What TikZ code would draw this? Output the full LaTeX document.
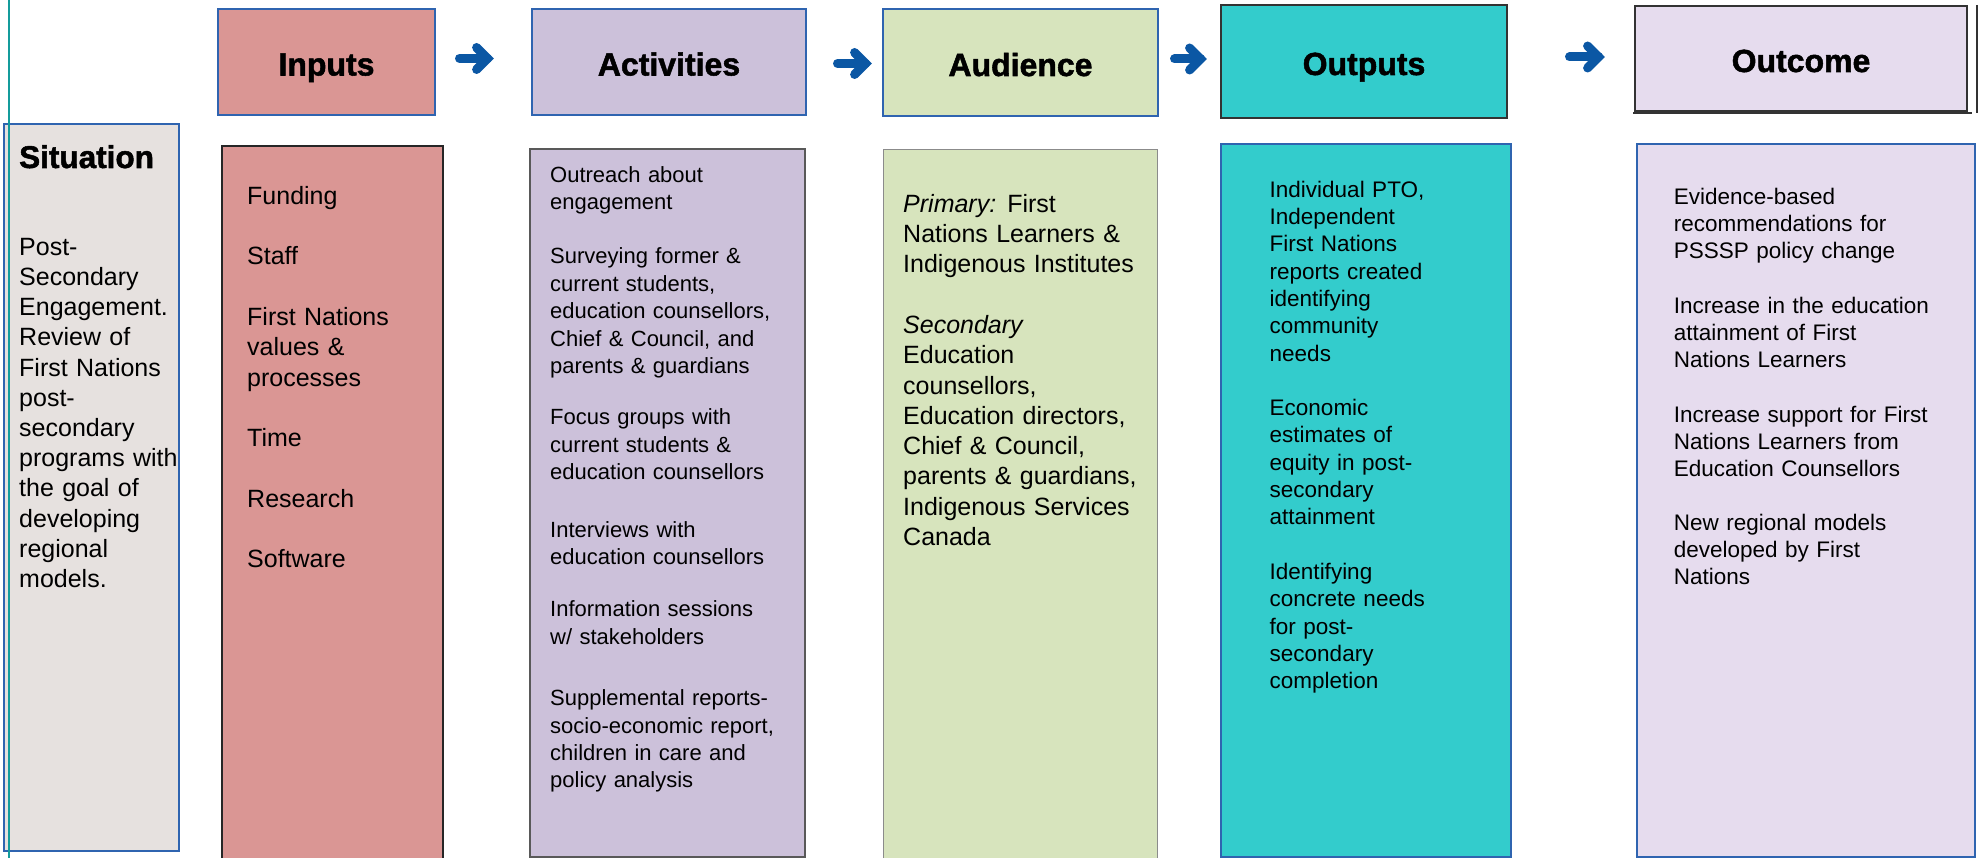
\documentclass[tikz,border=0pt]{standalone}
\usepackage{fontspec}
\setmainfont{Liberation Sans}
\newfontfamily\headfont[FakeBold=1.6]{Liberation Sans Bold}
\setlength{\parindent}{0pt}
\definecolor{sitfill}{HTML}{E6E1DF}
\definecolor{inputfill}{HTML}{DA9694}
\definecolor{actfill}{HTML}{CCC1DA}
\definecolor{audfill}{HTML}{D7E4BD}
\definecolor{outfill}{HTML}{33CCCC}
\definecolor{ocfill}{HTML}{E6DCEE}
\definecolor{ruleblue}{HTML}{2F64B0}
\definecolor{rulegray}{HTML}{595959}
\definecolor{arrowblue}{HTML}{0B57A4}
\definecolor{tealline}{HTML}{149C9C}
\begin{document}
\begin{tikzpicture}
[x=1pt,y=-1pt,
  colbox/.style={shape=rectangle,inner sep=0pt,outer sep=0pt},
  headbox/.style={colbox,font=\fontsize{32}{38}\headfont,text height=27pt,text depth=0pt},
  bluerule/.style={draw=ruleblue,line width=1.2pt},
  blackrule/.style={draw=black!85,line width=2pt},
  grayrule/.style={draw=rulegray,line width=1.5pt},
  lightrule/.style={draw=rulegray!70,line width=1pt},
  darkrule/.style={draw=black!80,line width=2pt},
  bodytext/.style={anchor=north west,inner sep=0pt,text width=300pt,align=left},
  flowarrow/.style={draw=arrowblue,line width=9pt,line cap=round,line join=miter}]
\useasboundingbox (0,0) rectangle (1982,858);
\clip (0,0) rectangle (1982,858);
%% column bodies
\foreach \nodename/\xa/\ya/\xb/\yb/\boxfill/\border in {
    situation/4/124/179/851/sitfill/bluerule,
    inbody/222/146/443/875/inputfill/blackrule,
    actbody/530/149/805/857/actfill/grayrule,
    audbody/883/150/1157/875/audfill/lightrule,
    outbody/1221/144/1511/857/outfill/bluerule,
    ocbody/1637/144/1975/857/ocfill/bluerule} {
  \node (\nodename) at ({(\xa+\xb)/2},{(\ya+\yb)/2}) [colbox,fill=\boxfill,\border,
    minimum width=(\xb-\xa)*1pt,minimum height=(\yb-\ya)*1pt] {};
}
%% header boxes
\foreach \nodename/\xa/\ya/\xb/\yb/\boxfill/\border/\headtext in {
    inhead/218/9/435/115/inputfill/bluerule/Inputs,
    acthead/532/9/806/115/actfill/bluerule/Activities,
    audhead/883/9/1158/116/audfill/bluerule/Audience,
    outhead/1221/5/1507/118/outfill/darkrule/Outputs,
    ochead/1635/6/1967/111/ocfill/darkrule/Outcome} {
  \node (\nodename) at ({(\xa+\xb)/2},{(\ya+\yb)/2}) [headbox,fill=\boxfill,\border,
    minimum width=(\xb-\xa)*1pt,minimum height=(\yb-\ya)*1pt] {\headtext};
}
\draw[darkrule] ([shift={(-2,2.5)}]ochead.south west) -- ([shift={(5,2.5)}]ochead.south east);
\draw[darkrule] ([shift={(10,-1)}]ochead.north east) -- ([shift={(10,2.5)}]ochead.south east);
%% left rule
\coordinate (railtop) at (9,0);
\coordinate (railbottom) at (9,858);
\draw[draw=tealline,line width=2pt] (railtop) -- (railbottom);
%% arrows between headers
\foreach \i/\xs/\xe/\y in {1/455/494/58.5, 2/833/872/63.5, 3/1170/1207/59, 4/1565/1605/57} {
  \coordinate (tail\i) at (\xs+4.5,\y);
  \coordinate (tip\i) at (\xe-6.4,\y);
  \draw[flowarrow] (tail\i) -- (tip\i);
  \draw[flowarrow] ([shift={(-11,-11)}]tip\i) -- (tip\i) -- ([shift={(-11,11)}]tip\i);
}
%% texts
\node (sittitle) at (19,168) [anchor=base west,inner sep=0pt,font=\fontsize{31.5}{37}\headfont] {Situation};
\node (sittext) at (19,233.9) [bodytext,font=\fontsize{25}{30.2}\selectfont]
  {\strut Post-\\Secondary\\Engagement.\\Review of\\First Nations\\post-\\secondary\\programs with\\the goal of\\developing\\regional\\models.};
\node (intext) at (247,182.8) [bodytext,font=\fontsize{25}{30.3}\selectfont]
  {\strut Funding\\[30.3pt]Staff\\[30.3pt]First Nations\\values \&\\processes\\[30.3pt]Time\\[30.3pt]Research\\[30.3pt]Software};
\node (acttext) at (550,162.8) [bodytext,font=\fontsize{22}{27.4}\selectfont]
  {\strut Outreach about\\engagement\\[27pt]Surveying former \&\\current students,\\education counsellors,\\Chief \& Council, and\\parents \& guardians\\[24pt]Focus groups with\\current students \&\\education counsellors\\[30pt]Interviews with\\education counsellors\\[25pt]Information sessions\\w/ stakeholders\\[34pt]Supplemental reports-\\socio-economic report,\\children in care and\\policy analysis};
\node (audtext) at (903,190.8) [bodytext,font=\fontsize{25}{30.3}\selectfont]
  {\strut\textit{Primary:}\hspace{-1.5pt} First\\Nations Learners \&\\Indigenous Institutes\\[30.3pt]\textit{Secondary}\\Education\\counsellors,\\Education directors,\\Chief \& Council,\\parents \& guardians,\\Indigenous Services\\Canada};
\node (outtext) at (1269.5,177.9) [bodytext,font=\fontsize{22.5}{27.3}\selectfont]
  {\strut Individual PTO,\\Independent\\First Nations\\reports created\\identifying\\community\\needs\\[27.3pt]Economic\\estimates of\\equity in post-\\secondary\\attainment\\[27.3pt]Identifying\\concrete needs\\for post-\\secondary\\completion};
\node (octext) at (1673.6,185.1) [bodytext,font=\fontsize{22.5}{27}\selectfont]
  {\strut Evidence-based\\recommendations for\\PSSSP policy change\\[28pt]Increase in the education\\attainment of First\\Nations Learners\\[28pt]Increase support for First\\Nations Learners from\\Education Counsellors\\[27pt]New regional models\\developed by First\\Nations};
\end{tikzpicture}
\end{document}
